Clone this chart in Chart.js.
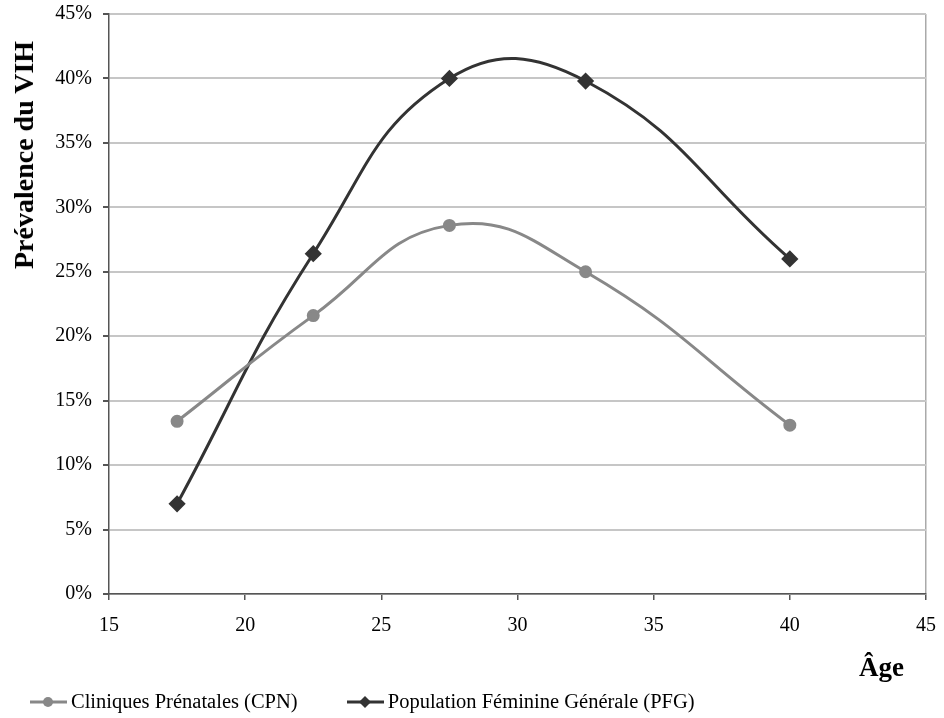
<!DOCTYPE html>
<html>
<head>
<meta charset="utf-8">
<script src="https://cdn.jsdelivr.net/npm/chart.js@4"></script>
<style>
    body { margin: 0; background: #fff; }
    #wrap { position: relative; width: 944px; height: 718px; }
    #ytitle {
        position: absolute; left: 24px; top: 155px;
        transform: translate(-50%, -50%) rotate(-90deg);
        font: bold 28px "Liberation Serif", serif; white-space: nowrap; color: #000;
    }
    #xtitle {
        position: absolute; right: 40px; top: 652px;
        font: bold 27px "Liberation Serif", serif; color: #000;
    }
    #legend {
        position: absolute; left: 30px; top: 690px;
        font: 20.5px "Liberation Serif", serif; color: #000; white-space: nowrap;
    }
    #legend span { display: inline-flex; align-items: center; }
    #legend svg { margin-right: 4px; }
</style>
</head>
<body>
<div id="wrap">
    <canvas id="myChart" width="944" height="718"></canvas>
    <div id="ytitle">Prévalence du VIH</div>
    <div id="xtitle">Âge</div>
    <div id="legend">
        <span style="margin-right:44px">
            <svg width="37" height="14"><line x1="0" y1="7" x2="37" y2="7" stroke="#888" stroke-width="3"/><circle cx="18" cy="7" r="5" fill="#888"/></svg>Cliniques Prénatales (CPN)
        </span>
        <span>
            <svg width="37" height="14"><line x1="0" y1="7" x2="37" y2="7" stroke="#333" stroke-width="3"/><polygon points="18,1 24,7 18,13 12,7" fill="#333"/></svg>Population Féminine Générale (PFG)
        </span>
    </div>
</div>
<script>
var ages = [17.5, 22.5, 27.5, 32.5, 40];
var cpn = [13.4, 21.6, 28.6, 25.0, 13.1];
var pfg = [7.0, 26.4, 40.0, 39.8, 26.0];

var xTicks = [15, 20, 25, 30, 35, 40, 45];
var yTicks = [0, 5, 10, 15, 20, 25, 30, 35, 40, 45];

function toPoints(xs, ys) {
    var out = [];
    for (var i = 0; i < xs.length; i++) {
        out.push({ x: xs[i], y: ys[i] });
    }
    return out;
}

// let layout.padding alone decide where the plot area sits
function noScalePadding(scale) {
    scale.paddingTop = 0;
    scale.paddingBottom = 0;
    scale.paddingLeft = 0;
    scale.paddingRight = 0;
}

var tickFont = { family: 'Liberation Serif', size: 20 };

var ctx = document.getElementById('myChart').getContext('2d');
var chart = new Chart(ctx, {
    type: 'line',
    data: {
        datasets: [{
            label: 'Cliniques Prénatales (CPN)',
            data: toPoints(ages, cpn),
            borderColor: '#888888',
            backgroundColor: '#888888',
            borderWidth: 3,
            pointStyle: 'circle',
            pointRadius: 5,
            tension: 0.45
        }, {
            label: 'Population Féminine Générale (PFG)',
            data: toPoints(ages, pfg),
            borderColor: '#333333',
            backgroundColor: '#333333',
            borderWidth: 3,
            pointStyle: 'rectRot',
            pointRadius: 6.5,
            tension: 0.45
        }]
    },
    options: {
        responsive: false,
        animation: false,
        layout: { padding: { top: 14, left: 0, right: 18, bottom: 84 } },
        plugins: { legend: { display: false }, tooltip: { enabled: false } },
        scales: {
            x: {
                type: 'linear',
                min: 15,
                max: 45,
                afterBuildTicks: function(scale) {
                    scale.ticks = xTicks.map(function(v) { return { value: v }; });
                },
                afterFit: function(scale) { scale.height = 40; noScalePadding(scale); },
                ticks: { font: tickFont, color: '#000', padding: 14, maxRotation: 0 },
                grid: {
                    color: function(c) { return c.tick && c.tick.value === 45 ? '#aaaaaa' : 'rgba(0,0,0,0)'; },
                    lineWidth: 1.5,
                    tickLength: 6,
                    tickColor: '#555555'
                },
                border: { color: '#555555', width: 1.5 }
            },
            y: {
                min: 0,
                max: 45,
                afterBuildTicks: function(scale) {
                    scale.ticks = yTicks.map(function(v) { return { value: v }; });
                },
                afterFit: function(scale) { scale.width = 109; noScalePadding(scale); },
                ticks: {
                    font: tickFont, color: '#000', padding: 11,
                    callback: function(v) { return v + '%'; }
                },
                grid: {
                    color: '#c6c6c6',
                    lineWidth: 2,
                    tickLength: 6,
                    tickColor: '#555555'
                },
                border: { color: '#555555', width: 1.5 }
            }
        }
    }
});
</script>
</body>
</html>
